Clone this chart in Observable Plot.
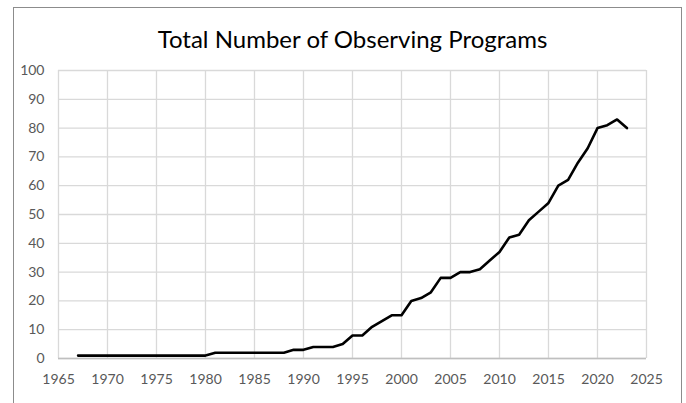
<!DOCTYPE html>
<html>
<head>
<meta charset="utf-8">
<script src="https://cdn.jsdelivr.net/npm/d3@7"></script>
<script src="https://cdn.jsdelivr.net/npm/@observablehq/plot@0.6"></script>
<style>
  html, body { margin: 0; padding: 0; background: #fff; }
  #wrap { position: relative; width: 686px; height: 403px; overflow: hidden; }
  #border { position: absolute; left: 13px; top: 7px; width: 669px; height: 420px;
            border: 1.5px solid #8c8c8c; border-bottom: none; pointer-events: none; box-sizing: border-box; }
</style>
</head>
<body>
<div id="wrap"><div id="border"></div></div>
<script>
const title = "Total Number of Observing Programs";
const years = [1967,1968,1969,1970,1971,1972,1973,1974,1975,1976,1977,1978,1979,1980,
  1981,1982,1983,1984,1985,1986,1987,1988,1989,1990,1991,1992,1993,1994,1995,1996,1997,1998,1999,2000,
  2001,2002,2003,2004,2005,2006,2007,2008,2009,2010,2011,2012,2013,2014,2015,2016,2017,2018,2019,2020,2021,2022,2023];
const programs = [1,1,1,1,1,1,1,1,1,1,1,1,1,1,
  2,2,2,2,2,2,2,2,3,3,4,4,4,5,8,8,11,13,15,15,
  20,21,23,28,28,30,30,31,34,37,42,43,48,51,54,60,62,68,73,80,81,83,80];
const xTicks = [1965,1970,1975,1980,1985,1990,1995,2000,2005,2010,2015,2020,2025];
const yTicks = [0,10,20,30,40,50,60,70,80,90,100];

const data = years.map((year, i) => ({year, n: programs[i]}));

const chart = Plot.plot({
  width: 686,
  height: 403,
  marginLeft: 58,
  marginRight: 40,
  marginTop: 70,
  marginBottom: 45,
  style: {fontFamily: "Lato, 'Open Sans', sans-serif", fontSize: "14px", color: "#595959", background: "transparent"},
  x: {domain: [1965, 2025], label: null},
  y: {domain: [0, 100], label: null},
  marks: [
    Plot.gridX(xTicks, {stroke: "#d9d9d9", strokeOpacity: 1, strokeWidth: 1.3}),
    Plot.gridY(yTicks, {stroke: "#d9d9d9", strokeOpacity: 1, strokeWidth: 1.3}),
    Plot.ruleY([0], {stroke: "#bfbfbf", strokeWidth: 1.5}),
    Plot.axisX(xTicks, {tickSize: 0, tickPadding: 16, tickFormat: d => String(d), fill: "#595959"}),
    Plot.axisY(yTicks, {tickSize: 0, tickPadding: 14, fill: "#595959"}),
    Plot.lineY(data, {x: "year", y: "n", stroke: "#000", strokeWidth: 2.6, strokeLinejoin: "round"}),
    Plot.text([title], {frameAnchor: "top", dy: -40, fontSize: 24, fill: "#000", fontFamily: "Lato, 'Open Sans', sans-serif"})
  ]
});
chart.style.position = "absolute";
chart.style.left = "0px";
chart.style.top = "0px";
document.getElementById("wrap").prepend(chart);
</script>
</body>
</html>
